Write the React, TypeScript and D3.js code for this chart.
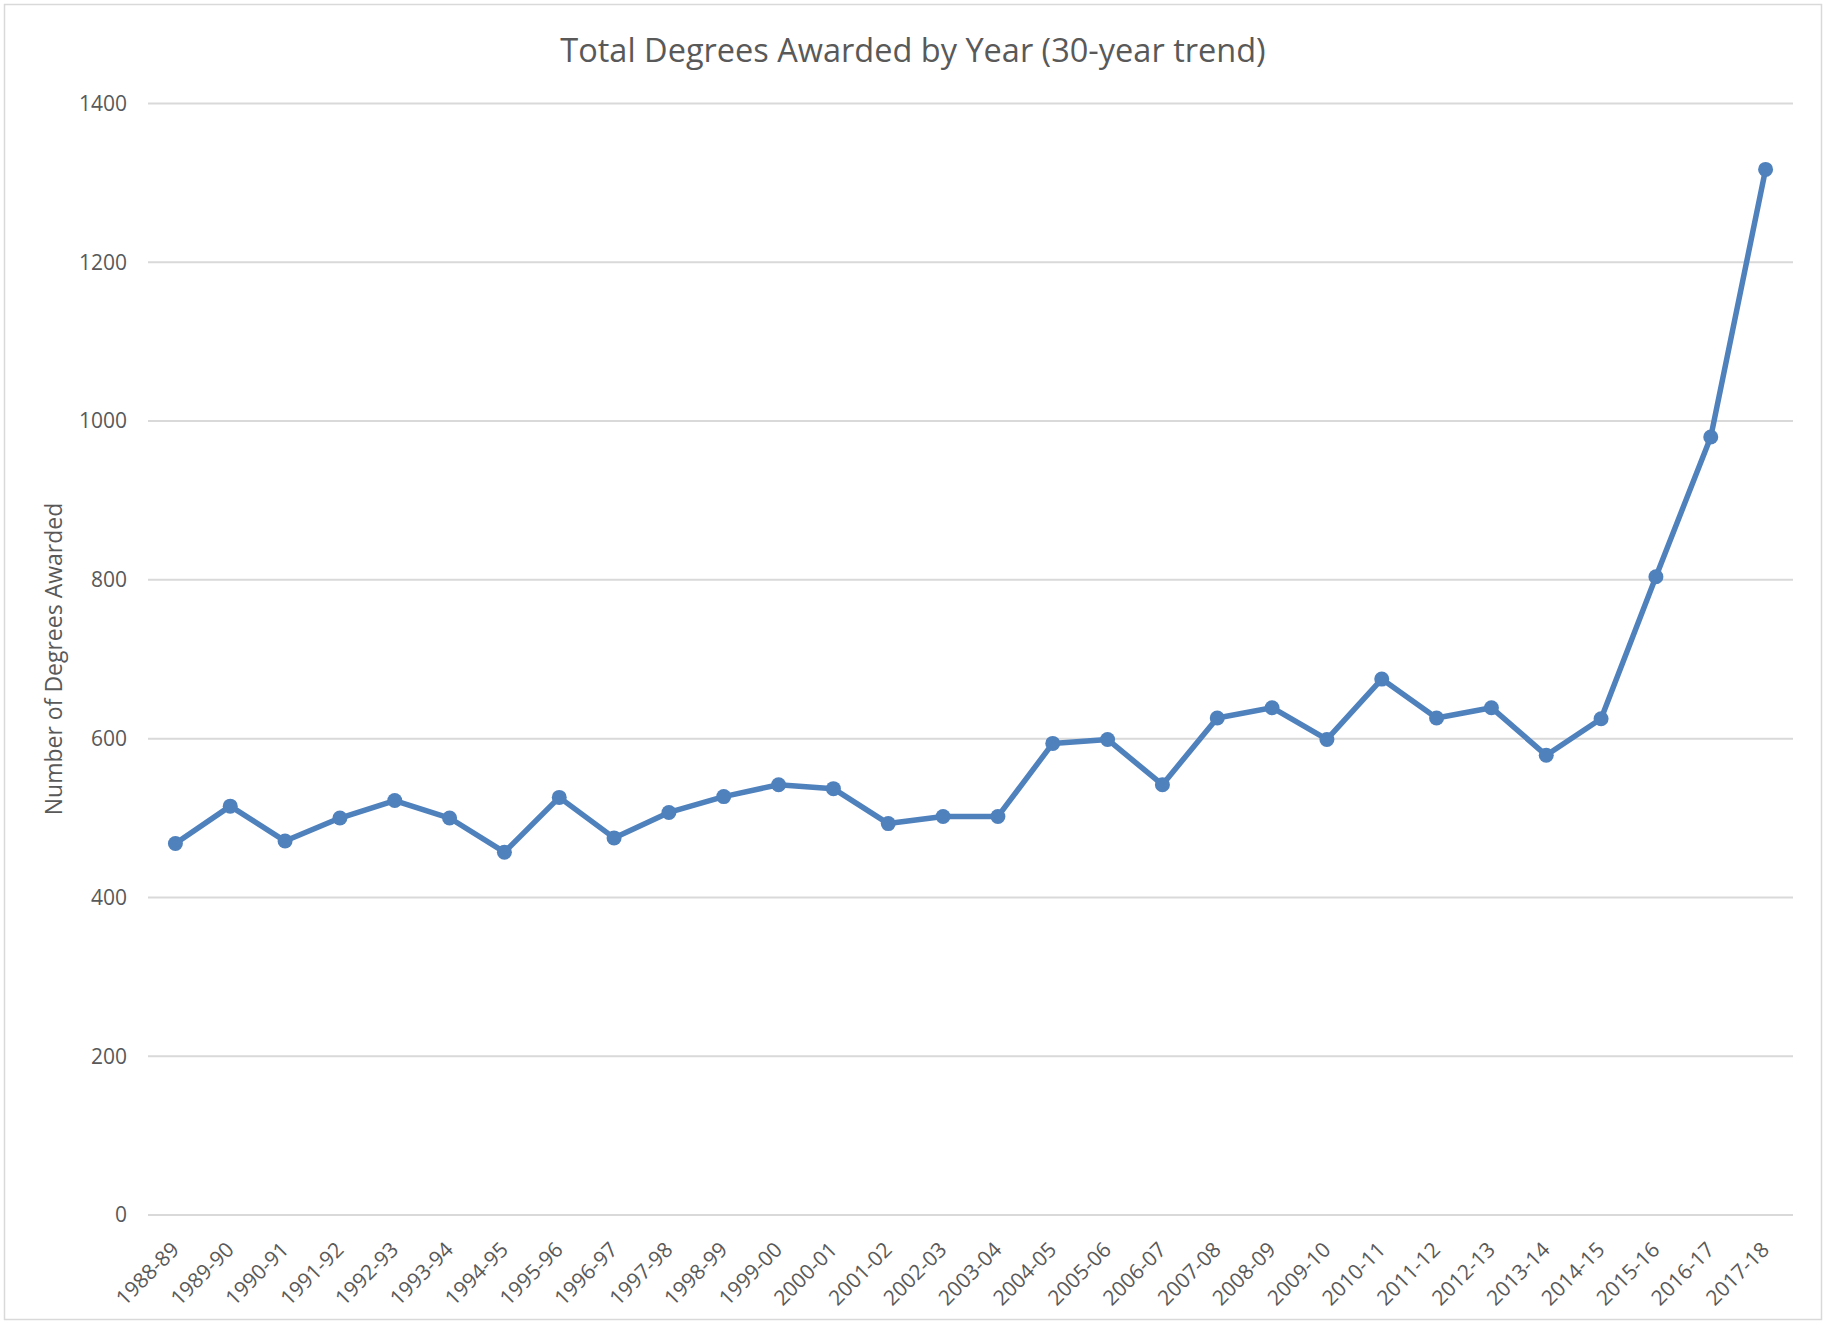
import React from "react";
import * as d3 from "d3";

const years: string[] = [
  "1988-89","1989-90","1990-91","1991-92","1992-93","1993-94","1994-95","1995-96",
  "1996-97","1997-98","1998-99","1999-00","2000-01","2001-02","2002-03","2003-04",
  "2004-05","2005-06","2006-07","2007-08","2008-09","2009-10","2010-11","2011-12",
  "2012-13","2013-14","2014-15","2015-16","2016-17","2017-18",
];
const degrees: number[] = [
  468, 515, 471, 500, 522, 500, 457, 526, 475, 507, 527, 542, 537, 493, 502, 502,
  594, 599, 542, 626, 639, 599, 675, 626, 639, 579, 625, 804, 980, 1317,
];
const yTicks: number[] = [0, 200, 400, 600, 800, 1000, 1200, 1400];
const title = "Total Degrees Awarded by Year (30-year trend)";
const yAxisTitle = "Number of Degrees Awarded";

const W = 1824;
const H = 1322;
const left = 148;
const right = 1793;
const top = 103.5;
const bottom = 1215;
const FONT = "'Open Sans', 'Noto Sans', sans-serif";
const TEXT = "#595959";
const GRID = "#d9d9d9";
const BLUE = "#4f81bd";

export default function App() {
  const x = d3.scaleBand<string>().domain(years).range([left, right]);
  const y = d3.scaleLinear().domain([0, 1400]).range([bottom, top]);
  const cx = (d: string) => (x(d) as number) + x.bandwidth() / 2;
  const line = d3
    .line<number>()
    .x((_, i) => cx(years[i]))
    .y((v) => y(v));

  return (
    <div style={{ position: "absolute", left: 0, top: 0 }}>
      <svg width={W} height={H} style={{ display: "block", background: "#fff" }}>
        <rect x={4.5} y={4.5} width={1817} height={1315} fill="#fff" stroke={GRID} strokeWidth={1.5} />
        <text x={913} y={62} textAnchor="middle" fontFamily={FONT} fontSize={32.5} fill={TEXT}>
          {title}
        </text>
        {yTicks.map((t) => (
          <g key={t}>
            <line x1={left} x2={right} y1={y(t)} y2={y(t)} stroke={GRID} strokeWidth={2} />
            <text
              x={127}
              y={y(t)}
              dy="0.35em"
              textAnchor="end"
              fontFamily={FONT}
              fontSize={21}
              fill={TEXT}
            >
              {t}
            </text>
          </g>
        ))}
        <text
          transform={`translate(62,659) rotate(-90)`}
          textAnchor="middle"
          fontFamily={FONT}
          fontSize={23}
          fill={TEXT}
        >
          {yAxisTitle}
        </text>
        {years.map((yr) => (
          <text
            key={yr}
            transform={`translate(${cx(yr) + 5},${1251}) rotate(-45)`}
            textAnchor="end"
            fontFamily={FONT}
            fontSize={21}
            fill={TEXT}
          >
            {yr}
          </text>
        ))}
        <path
          d={line(degrees) || ""}
          fill="none"
          stroke={BLUE}
          strokeWidth={5.5}
          strokeLinejoin="round"
          strokeLinecap="round"
        />
        {degrees.map((v, i) => (
          <circle key={years[i]} cx={cx(years[i])} cy={y(v)} r={7.5} fill={BLUE} />
        ))}
      </svg>
    </div>
  );
}
